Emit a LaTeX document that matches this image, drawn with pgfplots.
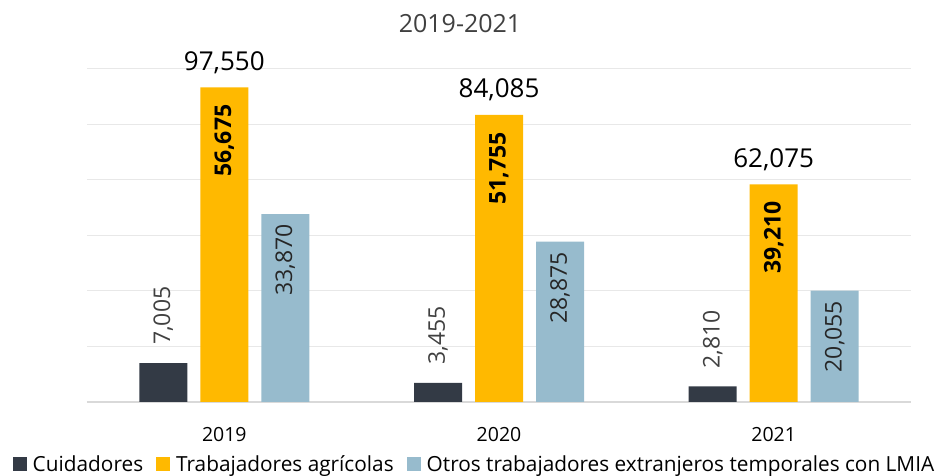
\documentclass[border=0pt]{standalone}
\usepackage{pgfplots}
\pgfplotsset{compat=1.18}
\usepackage{fontspec}
\setmainfont{Open Sans}
\definecolor{cdark}{HTML}{333A45}
\definecolor{cgold}{HTML}{FFB900}
\definecolor{cblue}{HTML}{97BBCD}
\definecolor{cgrid}{HTML}{E8E8E8}
\definecolor{cbase}{HTML}{D9D9D9}
\definecolor{ctxt}{HTML}{404040}
\begin{document}
\begin{tikzpicture}
\useasboundingbox (-87pt,-74pt) rectangle (851pt,402pt);
\begin{axis}[
  scale only axis, width=824pt, height=333pt,
  xmin=-0.5, xmax=2.5, ymin=0, ymax=60000,
  ybar, bar width=48pt,
  axis x line*=bottom, axis y line*=left,
  x axis line style={cbase, line width=1.5pt},
  y axis line style={draw=none},
  xtick={0,1,2}, xticklabels={2019,2020,2021},
  major tick length=0pt,
  xticklabel style={font=\fontsize{19.5}{22}\selectfont, text=black, yshift=-22pt},
  ytick={10000,20000,...,60000}, yticklabels={}, scaled y ticks=false,
  ymajorgrids, grid style={cgrid, line width=1pt},
  /pgf/number format/.cd, 1000 sep={,}, fixed, precision=0, assume math mode=true,
  /pgfplots/.cd,
  legend columns=3,
  legend style={draw=none, fill=none, at={(387.5pt,-62pt)}, anchor=center,
    font=\fontsize{20.8}{24}\selectfont, /tikz/every even column/.append style={column sep=11pt},
    inner sep=0pt},
  legend image code/.code={\fill[#1] (0pt,-7pt) rectangle (14pt,7pt); \path (18pt,0pt);},
]
\addplot[fill=cdark, draw=none, bar shift=-61pt,
  nodes near coords, every node near coord/.append style={rotate=90, anchor=west, inner xsep=18pt, inner ysep=0pt, text=ctxt, font=\fontsize{23}{26}\selectfont}]
  coordinates {(0,7005) (1,3455) (2,2810)};
\addlegendentry{Cuidadores}
\addplot[fill=cgold, draw=none, bar shift=0pt,
  nodes near coords, every node near coord/.append style={rotate=90, anchor=east, inner xsep=17pt, inner ysep=0pt, text=black, font=\fontsize{23}{26}\selectfont\bfseries}]
  coordinates {(0,56675) (1,51755) (2,39210)};
\addlegendentry{Trabajadores agrícolas}
\addplot[fill=cblue, draw=none, bar shift=61pt,
  nodes near coords, every node near coord/.append style={rotate=90, anchor=east, inner xsep=10pt, inner ysep=0pt, text=black!85, font=\fontsize{23}{26}\selectfont}]
  coordinates {(0,33870) (1,28875) (2,20055)};
\addlegendentry{Otros trabajadores extranjeros temporales con LMIA}
\addplot[draw=none, fill=none, bar shift=0pt, forget plot,
  point meta=explicit,
  nodes near coords, every node near coord/.append style={anchor=base, yshift=17pt, inner sep=0pt, text=black, font=\fontsize{26}{30}\selectfont}]
  table[x=x, y=y, meta=t] {
x y t
0 56675 97550
1 51755 84085
2 39210 62075
};
\end{axis}
\node[text=ctxt, font=\fontsize{25}{30}\selectfont] at (373pt,378pt) {2019-2021};
\end{tikzpicture}
\end{document}
